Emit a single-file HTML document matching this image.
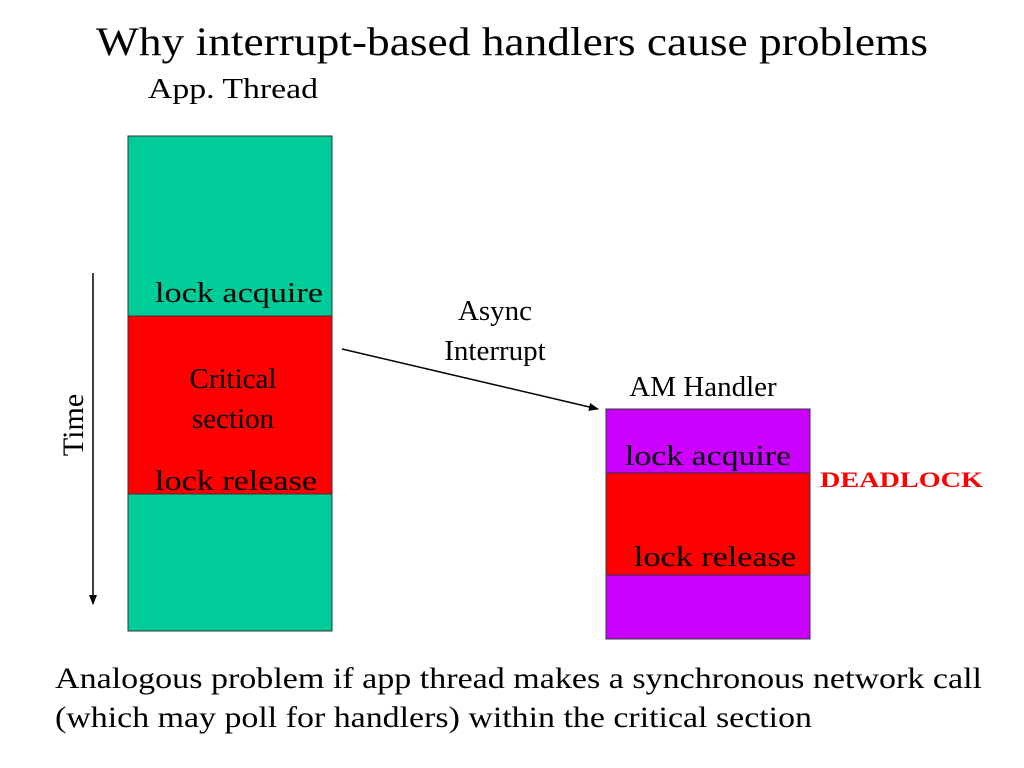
<!DOCTYPE html>
<html><head><meta charset="utf-8"><style>
html,body{margin:0;padding:0;background:#fff;}
svg{display:block;}
text{font-family:"Liberation Serif",serif;fill:#000;}
</style></head><body>
<svg width="1024" height="768" viewBox="0 0 1024 768" xmlns="http://www.w3.org/2000/svg">
<defs>
<marker id="ah" markerWidth="10" markerHeight="8" refX="9" refY="4" orient="auto" markerUnits="userSpaceOnUse">
<path d="M0,0 L10,4 L0,8 z" fill="#000"/>
</marker>
</defs>
<text x="96" y="55" font-size="40" textLength="832" lengthAdjust="spacingAndGlyphs">Why interrupt-based handlers cause problems</text>
<text x="148" y="98" font-size="29" textLength="170" lengthAdjust="spacingAndGlyphs">App. Thread</text>

<rect x="128" y="136" width="204" height="495" fill="#00cc99" stroke="#333" stroke-width="1"/>
<rect x="128" y="316" width="204" height="178" fill="#ff0000" stroke="#333" stroke-width="1"/>
<text x="155" y="302" font-size="29" textLength="168" lengthAdjust="spacingAndGlyphs">lock acquire</text>
<text x="233" y="388" font-size="29" text-anchor="middle">Critical</text>
<text x="233" y="428" font-size="29" text-anchor="middle">section</text>
<text x="155" y="490" font-size="29" textLength="162" lengthAdjust="spacingAndGlyphs">lock release</text>

<line x1="93" y1="273" x2="93" y2="604" stroke="#000" stroke-width="1.5" marker-end="url(#ah)"/>
<text transform="translate(83,425) rotate(-90)" font-size="30" text-anchor="middle">Time</text>

<line x1="342" y1="349" x2="598" y2="409" stroke="#000" stroke-width="1.5" marker-end="url(#ah)"/>
<text x="495" y="320" font-size="29" text-anchor="middle">Async</text>
<text x="495" y="360" font-size="29" text-anchor="middle">Interrupt</text>

<text x="703" y="396" font-size="29" text-anchor="middle">AM Handler</text>
<rect x="606" y="409" width="204" height="230" fill="#cc00ff" stroke="#333" stroke-width="1"/>
<rect x="606" y="473" width="204" height="102" fill="#ff0000" stroke="#333" stroke-width="1"/>
<text x="625" y="465" font-size="29" textLength="166" lengthAdjust="spacingAndGlyphs">lock acquire</text>
<text x="634" y="566" font-size="29" textLength="162" lengthAdjust="spacingAndGlyphs">lock release</text>
<text x="820" y="487" font-size="22" font-weight="bold" fill="#ff0000" style="fill:#ff0000" textLength="163" lengthAdjust="spacingAndGlyphs">DEADLOCK</text>

<text x="55" y="688" font-size="30" textLength="927" lengthAdjust="spacingAndGlyphs">Analogous problem if app thread makes a synchronous network call</text>
<text x="55" y="727" font-size="30" textLength="757" lengthAdjust="spacingAndGlyphs">(which may poll for handlers) within the critical section</text>
</svg>
</body></html>
